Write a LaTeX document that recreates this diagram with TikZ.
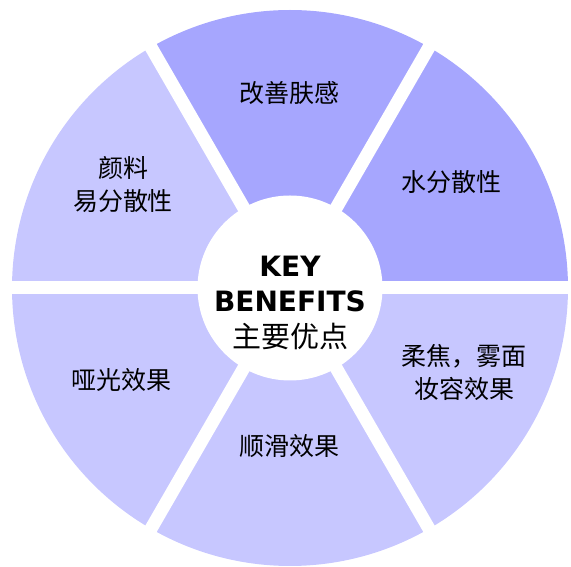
\documentclass[tikz,border=0pt]{standalone}
\usepackage{fontspec}
\newfontfamily\cjk{Noto Sans CJK SC}
\newfontfamily\keyfont{DejaVu Sans}
\definecolor{darkseg}{RGB}{166,166,254}
\definecolor{lightseg}{RGB}{199,199,255}
\begin{document}
\begin{tikzpicture}[x=1pt,y=1pt,
  lbl/.style={font=\cjk\fontsize{25}{33}\selectfont, align=center, text=black, inner sep=0pt},
  keytxt/.style={font=\keyfont\bfseries\fontsize{28}{30}\selectfont, text=black, inner sep=0pt},
  keycjk/.style={font=\cjk\fontsize{29}{30}\selectfont, text=black, inner sep=0pt},
  gap/.style={white, line width=13pt}]
\useasboundingbox (0,0) rectangle (571,567);
\coordinate (O) at (290,279);
\def\R{278}
% sectors
\fill[darkseg]  (O) -- ++(0:\R)   arc[start angle=0,   end angle=60,  radius=\R] -- cycle;
\fill[darkseg]  (O) -- ++(60:\R)  arc[start angle=60,  end angle=120, radius=\R] -- cycle;
\fill[lightseg] (O) -- ++(120:\R) arc[start angle=120, end angle=180, radius=\R] -- cycle;
\fill[lightseg] (O) -- ++(180:\R) arc[start angle=180, end angle=240, radius=\R] -- cycle;
\fill[lightseg] (O) -- ++(240:\R) arc[start angle=240, end angle=300, radius=\R] -- cycle;
\fill[lightseg] (O) -- ++(300:\R) arc[start angle=300, end angle=360, radius=\R] -- cycle;
% gaps
\foreach \a in {0,60,...,300} \draw[gap] (O) -- ++(\a:288);
% center disc
\fill[white] (O) circle (92.5);
% labels
\node[lbl] (t1) at (289,474) {改善肤感};
\node[lbl] (t2) at (451,385) {水分散性};
\node[lbl] (t3) at (123,382) {颜料\\易分散性};
\node[lbl] (t4) at (121,187) {哑光效果};
\node[lbl] (t5) at (289,121) {顺滑效果};
\node[lbl] (t6) at (464,195) {柔焦，雾面\\妆容效果};
% center text
\node[keytxt] (k1) at (290,301) {KEY};
\node[keytxt] (k2) at (290,266) {BENEFITS};
\node[keycjk] (k3) at (290,231) {主要优点};
\end{tikzpicture}
\end{document}
